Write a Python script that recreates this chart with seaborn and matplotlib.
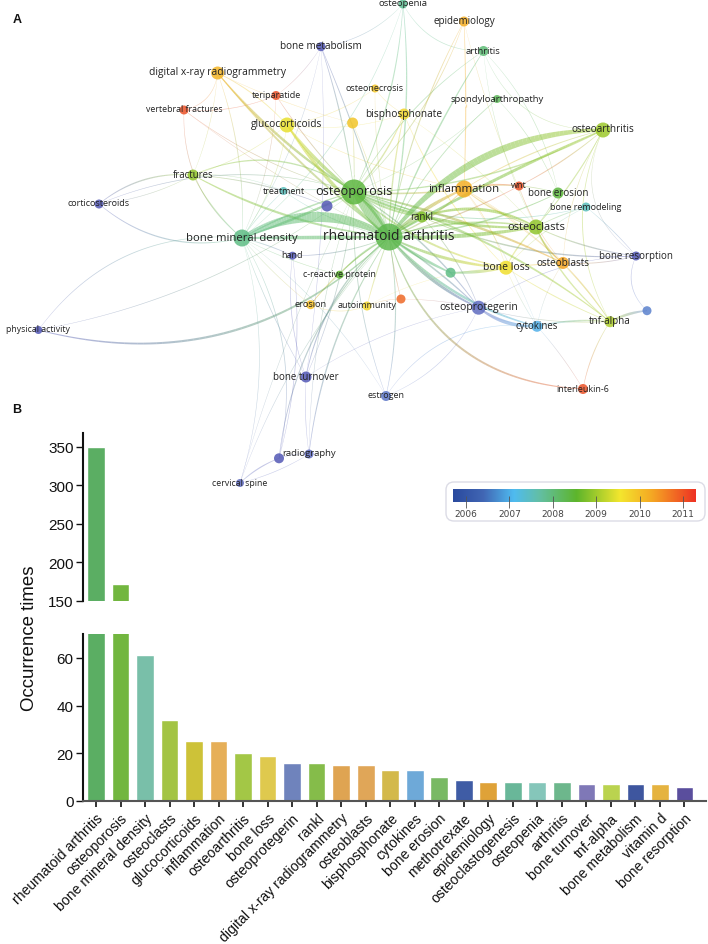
import numpy as np
import pandas as pd
import matplotlib
matplotlib.use('Agg')
import matplotlib.pyplot as plt
from matplotlib.collections import LineCollection
from matplotlib.colors import LinearSegmentedColormap, Normalize
from matplotlib.patches import FancyBboxPatch
import seaborn as sns

# panel B
keywords = ['rheumatoid arthritis', 'osteoporosis', 'bone mineral density', 'osteoclasts',
            'glucocorticoids', 'inflammation', 'osteoarthritis', 'bone loss', 'osteoprotegerin',
            'rankl', 'digital x-ray radiogrammetry', 'osteoblasts', 'bisphosphonate', 'cytokines',
            'bone erosion', 'methotrexate', 'epidemiology', 'osteoclastogenesis', 'osteopenia',
            'arthritis', 'bone turnover', 'tnf-alpha', 'bone metabolism', 'vitamin d', 'bone resorption']
occurrences = [350, 172, 61, 34, 25, 25, 20, 19, 16, 16, 15, 15, 13, 13, 10, 9, 8, 8, 8, 8, 7, 7, 7, 7, 6]
bar_colors = ['#5BAE63', '#72B63F', '#79BFA9', '#A3C444', '#CDC238', '#E6AF58', '#A3C746', '#DFC94E',
              '#6F83BC', '#85BC4A', '#DFA452', '#E0A658', '#D3B94B', '#6EA9D8', '#79B964', '#3F5CA5',
              '#DFA238', '#69B799', '#85C6BA', '#6DB78C', '#7F78B7', '#BAD34F', '#3E569F', '#E5B340', '#5A4E9D']

# panel A, positions read in reference pixels
node_names = ['osteopenia', 'epidemiology', 'bone metabolism', 'arthritis', 'digital x-ray radiogrammetry',
              'teriparatide', 'osteonecrosis', 'spondyloarthropathy', 'vertebral fractures', 'n1',
              'bisphosphonate', 'glucocorticoids', 'osteoarthritis', 'fractures', 'treatment',
              'osteoporosis', 'n2', 'inflammation', 'wnt', 'bone erosion',
              'bone remodeling', 'corticosteroids', 'rankl', 'osteoclasts', 'bone mineral density',
              'rheumatoid arthritis', 'hand', 'c-reactive protein', 'n3', 'bone loss',
              'osteoblasts', 'bone resorption', 'erosion', 'autoimmunity', 'n4',
              'osteoprotegerin', 'tnf-alpha', 'n5', 'cytokines', 'physical activity',
              'bone turnover', 'interleukin-6', 'estrogen', 'n6', 'radiography', 'cervical spine']
node_x = [403, 464, 321, 483.5, 217.6, 276, 375, 497, 184, 352.6, 404, 287, 603, 193, 283.5, 354, 327, 464, 519, 558,
          586, 99, 422, 536, 242, 389, 292.5, 339.5, 450.6, 506, 563, 636, 310.6, 367, 401, 478.6, 610, 647, 537, 38.4,
          306, 583, 386, 279, 309, 240]
node_y = [5, 22.5, 47.7, 52, 74, 96.5, 89.5, 100, 111, 124, 115, 126, 131, 176, 192, 193, 207, 190, 187, 194,
          208, 205, 218, 228, 239, 238, 256.7, 275.7, 273.7, 268.7, 264, 257, 305.7, 307, 300, 308.7, 322.7, 311.7, 327.3, 331,
          378, 390, 397, 459.3, 455, 484]
node_diam = [9, 10, 9, 10, 13, 9, 8, 8, 9, 11, 11, 15, 15, 11, 8, 25, 11, 17, 9, 11,
             9, 9, 11, 15, 17, 27, 8, 8, 10, 14, 12, 9, 9, 9, 9, 14, 11, 9, 11, 8,
             11, 10, 10, 10, 9, 8]
node_year = [2007.8, 2010.2, 2006.0, 2008.0, 2010.1, 2011.0, 2009.9, 2008.2, 2011.0, 2009.9, 2009.7, 2009.5, 2009.0, 2008.9, 2007.5,
             2008.4, 2006.0, 2010.2, 2011.0, 2008.4, 2007.5, 2006.0, 2008.8, 2008.9, 2007.9, 2008.3, 2006.0, 2008.5, 2007.9, 2009.6,
             2010.3, 2006.0, 2010.0, 2009.7, 2010.8, 2006.4, 2009.1, 2006.6, 2007.0, 2006.0, 2006.0, 2011.0, 2006.5, 2006.0, 2006.4, 2006.4]
label_pt = [6.8, 7.1, 7.2, 6.8, 7.4, 6.5, 6.5, 6.8, 6.3, 0, 7.3, 7.3, 7.2, 6.9, 6.5, 9.2, 0, 8.2, 6.5, 7.0,
            6.5, 6.5, 6.9, 7.9, 8.1, 10, 6.5, 6.5, 0, 7.5, 7.2, 7.0, 6.6, 6.5, 0, 7.5, 7.1, 0, 6.9, 6.3,
            7.0, 6.4, 6.5, 0, 6.8, 6.3]

# edges: from, to, width (px), bend
edges = [
    ('rheumatoid arthritis', 'osteoporosis', 10, 0.02),
    ('rheumatoid arthritis', 'osteoporosis', 5, -0.15),
    ('bone mineral density', 'rheumatoid arthritis', 10, 0.28),
    ('bone mineral density', 'rheumatoid arthritis', 3.5, 0.0),
    ('bone mineral density', 'osteoporosis', 2.5, -0.03),
    ('bone mineral density', 'osteoporosis', 1.6, 0.06),
    ('rheumatoid arthritis', 'osteoarthritis', 7, 0.24),
    ('rheumatoid arthritis', 'osteoarthritis', 3, 0.03),
    ('rheumatoid arthritis', 'osteoclasts', 4, -0.05),
    ('rheumatoid arthritis', 'osteoclasts', 2, 0.12),
    ('rheumatoid arthritis', 'inflammation', 3.5, 0.08),
    ('rheumatoid arthritis', 'inflammation', 1.6, -0.12),
    ('rheumatoid arthritis', 'bone loss', 3, -0.1),
    ('n3', 'bone loss', 3, -0.05),
    ('rheumatoid arthritis', 'osteoprotegerin', 3, -0.12),
    ('rheumatoid arthritis', 'osteoprotegerin', 1.6, 0.05),
    ('rheumatoid arthritis', 'rankl', 3, 0.05),
    ('rheumatoid arthritis', 'glucocorticoids', 3.5, 0.08),
    ('rheumatoid arthritis', 'digital x-ray radiogrammetry', 2, 0.06),
    ('osteoporosis', 'digital x-ray radiogrammetry', 2.5, 0.08),
    ('osteoporosis', 'glucocorticoids', 3.5, 0.08),
    ('osteoporosis', 'osteoclasts', 3, -0.12),
    ('osteoporosis', 'inflammation', 1.6, -0.05),
    ('osteoporosis', 'rankl', 2, -0.1),
    ('osteoporosis', 'bone loss', 2, -0.14),
    ('osteoporosis', 'osteoarthritis', 1.5, -0.12),
    ('osteoporosis', 'osteoblasts', 2.5, 0.06),
    ('osteoporosis', 'tnf-alpha', 2, 0.1),
    ('rankl', 'osteoclasts', 3, 0.22),
    ('inflammation', 'osteoclasts', 1.4, -0.1),
    ('osteoclasts', 'osteoblasts', 2, -0.15),
    ('osteoclasts', 'tnf-alpha', 1.4, -0.12),
    ('bone loss', 'osteoclasts', 1.4, 0.1),
    ('osteoprotegerin', 'cytokines', 3.5, -0.18),
    ('rheumatoid arthritis', 'cytokines', 2.5, -0.15),
    ('cytokines', 'tnf-alpha', 1.8, 0.08),
    ('tnf-alpha', 'n5', 2.5, 0.1),
    ('rheumatoid arthritis', 'interleukin-6', 2, -0.35),
    ('rheumatoid arthritis', 'n3', 3, -0.05),
    ('rheumatoid arthritis', 'c-reactive protein', 1.6, -0.1),
    ('physical activity', 'rheumatoid arthritis', 2.2, -0.28),
    ('physical activity', 'bone mineral density', 0.8, 0.28),
    ('physical activity', 'osteoporosis', 0.7, -0.12),
    ('corticosteroids', 'fractures', 1.3, 0.2),
    ('corticosteroids', 'bone mineral density', 1.2, -0.25),
    ('corticosteroids', 'osteoporosis', 0.8, 0.18),
    ('corticosteroids', 'fractures', 0.6, -0.1),
    ('fractures', 'osteoporosis', 1.4, 0.28),
    ('fractures', 'rheumatoid arthritis', 2.2, -0.1),
    ('fractures', 'bone mineral density', 1.1, -0.1),
    ('fractures', 'n2', 1, 0.08),
    ('fractures', 'treatment', 0.5, 0.12),
    ('digital x-ray radiogrammetry', 'glucocorticoids', 1, 0.1),
    ('digital x-ray radiogrammetry', 'bone mineral density', 0.9, 0.1),
    ('digital x-ray radiogrammetry', 'vertebral fractures', 0.6, 0.35),
    ('digital x-ray radiogrammetry', 'fractures', 0.5, 0.08),
    ('vertebral fractures', 'teriparatide', 0.6, -0.12),
    ('vertebral fractures', 'bone mineral density', 0.8, -0.25),
    ('vertebral fractures', 'osteoporosis', 0.7, -0.1),
    ('vertebral fractures', 'rheumatoid arthritis', 0.5, -0.05),
    ('teriparatide', 'osteoporosis', 0.9, -0.05),
    ('teriparatide', 'bone mineral density', 0.6, 0.1),
    ('teriparatide', 'bone metabolism', 0.5, -0.1),
    ('bone metabolism', 'osteoporosis', 1.1, 0.05),
    ('bone metabolism', 'rheumatoid arthritis', 1.1, 0.03),
    ('bone metabolism', 'osteopenia', 0.6, -0.18),
    ('bone metabolism', 'bone turnover', 0.6, 0.05),
    ('bone metabolism', 'bone mineral density', 0.5, 0.1),
    ('osteopenia', 'rheumatoid arthritis', 1.4, 0.08),
    ('osteopenia', 'osteoporosis', 1.2, 0.1),
    ('osteopenia', 'bone mineral density', 0.7, 0.15),
    ('osteopenia', 'arthritis', 0.7, -0.3),
    ('epidemiology', 'rheumatoid arthritis', 1.1, -0.08),
    ('epidemiology', 'osteoporosis', 0.9, 0.12),
    ('epidemiology', 'inflammation', 1.2, 0.02),
    ('epidemiology', 'osteoclasts', 0.5, -0.05),
    ('arthritis', 'rheumatoid arthritis', 1.5, -0.05),
    ('arthritis', 'osteoporosis', 0.9, -0.12),
    ('arthritis', 'bone erosion', 0.6, 0.15),
    ('arthritis', 'osteoarthritis', 0.6, -0.35),
    ('arthritis', 'osteoclasts', 0.5, -0.1),
    ('spondyloarthropathy', 'rheumatoid arthritis', 0.9, -0.1),
    ('spondyloarthropathy', 'bone erosion', 0.6, 0.1),
    ('spondyloarthropathy', 'osteoporosis', 0.5, 0.1),
    ('bisphosphonate', 'osteoporosis', 1.4, 0.1),
    ('bisphosphonate', 'rheumatoid arthritis', 1.4, -0.05),
    ('bisphosphonate', 'bone loss', 1, -0.1),
    ('bisphosphonate', 'osteoclasts', 0.5, 0.06),
    ('osteonecrosis', 'rheumatoid arthritis', 0.6, -0.05),
    ('osteonecrosis', 'glucocorticoids', 0.6, 0.12),
    ('osteonecrosis', 'bisphosphonate', 0.5, -0.12),
    ('n1', 'osteoporosis', 0.8, 0.02),
    ('n1', 'rheumatoid arthritis', 0.7, 0.05),
    ('n1', 'digital x-ray radiogrammetry', 0.5, 0.05),
    ('glucocorticoids', 'fractures', 0.6, 0.1),
    ('glucocorticoids', 'inflammation', 0.6, -0.08),
    ('glucocorticoids', 'bone mineral density', 0.7, 0.12),
    ('glucocorticoids', 'bisphosphonate', 0.5, -0.12),
    ('osteoarthritis', 'osteoclasts', 1.2, 0.06),
    ('osteoarthritis', 'inflammation', 1.1, -0.08),
    ('osteoarthritis', 'wnt', 1.1, 0.06),
    ('osteoarthritis', 'tnf-alpha', 0.9, -0.25),
    ('osteoarthritis', 'osteoblasts', 0.6, -0.12),
    ('osteoarthritis', 'bone resorption', 0.5, -0.4),
    ('inflammation', 'wnt', 1.3, 0.1),
    ('inflammation', 'bone erosion', 0.9, 0.12),
    ('inflammation', 'bone loss', 0.7, 0.1),
    ('inflammation', 'tnf-alpha', 0.6, 0.12),
    ('inflammation', 'cytokines', 0.5, 0.06),
    ('inflammation', 'osteoblasts', 0.6, 0.05),
    ('wnt', 'rheumatoid arthritis', 1.2, 0.06),
    ('wnt', 'osteoblasts', 0.6, -0.1),
    ('bone erosion', 'rheumatoid arthritis', 1.5, 0.1),
    ('bone erosion', 'osteoclasts', 0.7, 0.05),
    ('bone remodeling', 'osteoporosis', 1, 0.16),
    ('bone remodeling', 'bone loss', 0.7, -0.1),
    ('bone remodeling', 'bone resorption', 0.7, 0.05),
    ('bone remodeling', 'osteoclasts', 0.9, -0.05),
    ('rankl', 'bone resorption', 1.5, -0.12),
    ('osteoclasts', 'bone resorption', 1.3, -0.08),
    ('bone resorption', 'n5', 0.7, -0.35),
    ('bone loss', 'tnf-alpha', 1, -0.05),
    ('bone loss', 'osteoblasts', 1, 0.02),
    ('bone loss', 'cytokines', 0.6, -0.05),
    ('osteoblasts', 'bone resorption', 0.9, -0.08),
    ('osteoblasts', 'tnf-alpha', 1.2, 0.05),
    ('osteoblasts', 'cytokines', 0.5, -0.1),
    ('osteoprotegerin', 'rankl', 1, -0.1),
    ('osteoprotegerin', 'bone resorption', 0.6, 0.15),
    ('osteoprotegerin', 'estrogen', 0.6, 0.2),
    ('osteoprotegerin', 'tnf-alpha', 0.7, -0.08),
    ('osteoporosis', 'osteoprotegerin', 1.5, 0.1),
    ('cytokines', 'interleukin-6', 0.6, 0.05),
    ('tnf-alpha', 'interleukin-6', 0.9, -0.1),
    ('cytokines', 'estrogen', 0.7, -0.3),
    ('autoimmunity', 'rheumatoid arthritis', 1.1, 0.03),
    ('autoimmunity', 'n4', 0.5, 0.1),
    ('autoimmunity', 'bone loss', 0.4, 0.12),
    ('n4', 'rheumatoid arthritis', 0.9, 0.03),
    ('n4', 'osteoprotegerin', 0.5, 0.05),
    ('erosion', 'rheumatoid arthritis', 1.1, 0.1),
    ('erosion', 'autoimmunity', 0.6, -0.2),
    ('erosion', 'bone mineral density', 0.6, 0.05),
    ('hand', 'bone mineral density', 0.9, -0.05),
    ('hand', 'rheumatoid arthritis', 1, -0.1),
    ('hand', 'bone turnover', 0.7, -0.12),
    ('c-reactive protein', 'erosion', 0.7, -0.05),
    ('c-reactive protein', 'bone mineral density', 0.6, 0.06),
    ('treatment', 'osteoporosis', 0.7, 0.05),
    ('treatment', 'rheumatoid arthritis', 0.7, -0.1),
    ('treatment', 'bone mineral density', 0.7, -0.05),
    ('bone turnover', 'bone mineral density', 0.7, 0.05),
    ('bone turnover', 'rheumatoid arthritis', 1.4, 0.18),
    ('bone turnover', 'osteoporosis', 0.8, -0.08),
    ('bone turnover', 'osteoprotegerin', 0.5, 0.1),
    ('estrogen', 'rheumatoid arthritis', 1.1, -0.1),
    ('estrogen', 'osteoporosis', 0.9, 0.1),
    ('estrogen', 'bone mineral density', 0.5, -0.1),
    ('n6', 'bone mineral density', 0.8, -0.2),
    ('n6', 'rheumatoid arthritis', 1.2, 0.18),
    ('n6', 'hand', 0.7, -0.1),
    ('radiography', 'rheumatoid arthritis', 1.4, 0.12),
    ('radiography', 'bone turnover', 0.6, 0.05),
    ('radiography', 'n6', 0.6, -0.1),
    ('radiography', 'osteoporosis', 0.6, 0.08),
    ('cervical spine', 'n6', 1.1, 0.1),
    ('cervical spine', 'bone mineral density', 0.6, -0.15),
    ('cervical spine', 'radiography', 0.6, -0.08),
    ('cervical spine', 'rheumatoid arthritis', 0.6, 0.1),
    ('cervical spine', 'osteoporosis', 0.5, 0.05),
]

year_stops = [2005.71, 2006.4, 2007.1, 2007.7, 2008.55, 2009.55, 2010.3, 2011.29]
scale_colors = ['#2A4A9E', '#4166B4', '#4FBBF0', '#63BFA4', '#5DB52B', '#F3E62E', '#F5A623', '#EE3224']
# nodes and links start from a more violet blue than the colour scale
net_colors = ['#4A4AAE', '#5F6CC0', '#4FBBF0', '#5FC0A0', '#5DB52B', '#F0E22E', '#F5A623', '#E8302A']

W, H = 708, 945


def px_rect(left, top, right, bottom):
    return [left / W, 1 - bottom / H, (right - left) / W, (bottom - top) / H]


year_norm = Normalize(year_stops[0], year_stops[-1])
scale_cmap = LinearSegmentedColormap.from_list(
    'scale', [(year_norm(y), c) for y, c in zip(year_stops, scale_colors)])
net_cmap = LinearSegmentedColormap.from_list(
    'net', [(year_norm(y), c) for y, c in zip(year_stops, net_colors)])

sns.set_theme(style='white')
plt.rcParams['font.family'] = ['Liberation Sans', 'DejaVu Sans']

fig = plt.figure(figsize=(W / 100, H / 100), dpi=100)

# broken bar chart
bars = pd.DataFrame({'keyword': keywords, 'n': occurrences})
ax_top = fig.add_axes(px_rect(83.3, 434, 706, 601.7))
ax_low = fig.add_axes(px_rect(83.3, 635, 706, 802))
for ax in (ax_top, ax_low):
    sns.barplot(data=bars, x='keyword', y='n', hue='keyword', palette=bar_colors, width=0.72,
                saturation=1, legend=False, ax=ax)
    ax.set_xlim(-0.518, 24.88)
    ax.set_xlabel('')
    ax.set_ylabel('')
    ax.spines['top'].set_visible(False)
    ax.spines['right'].set_visible(False)
    ax.spines['left'].set_linewidth(1.5)
    ax.spines['left'].set_color('#111111')
    ax.tick_params(axis='y', left=True, length=5, width=1, labelsize=11, pad=2, color='#111111', labelcolor='#111111')

ax_top.set_ylim(150, 368)
ax_top.set_yticks([150, 200, 250, 300, 350])
ax_top.spines['bottom'].set_visible(False)
ax_top.tick_params(axis='x', bottom=False, labelbottom=False)

ax_low.set_ylim(0, 70)
ax_low.set_yticks([0, 20, 40, 60])
ax_low.spines['bottom'].set_linewidth(1.5)
ax_low.spines['bottom'].set_color('#555555')
ax_low.set_xticks(range(len(keywords)))
ax_low.set_xticklabels(keywords, rotation=45, ha='right', va='top', rotation_mode='anchor',
                       fontsize=10.1, color='#111111')
ax_low.tick_params(axis='x', bottom=True, length=4, width=1.2, pad=3, color='#111111')

fig.text(30 / W, 1 - 638 / H, 'Occurrence times', rotation=90, ha='center', va='center',
         fontsize=13.4, color='#111111')

# network on a full figure axes, in reference pixels
ax_net = fig.add_axes([0, 0, 1, 1], facecolor='none')

nodes = pd.DataFrame({'name': node_names, 'x': node_x, 'y': node_y, 'diam': node_diam, 'year': node_year})
pos = nodes.set_index('name')


def edge_curve(p0, p1, bend, steps=60):
    ctrl = (p0 + p1) / 2 + bend * np.array([p1[1] - p0[1], p0[0] - p1[0]])
    t = np.linspace(0, 1, steps)[:, None]
    return (1 - t) ** 2 * p0 + 2 * t * (1 - t) * ctrl + t ** 2 * p1


for a, b, width, bend in sorted(edges, key=lambda e: e[2]):
    p0 = pos.loc[a, ['x', 'y']].to_numpy(dtype=float)
    p1 = pos.loc[b, ['x', 'y']].to_numpy(dtype=float)
    curve = edge_curve(p0, p1, bend)
    segs = np.stack([curve[:-1], curve[1:]], axis=1)
    # colour runs straight from one end node to the other
    mix = np.linspace(0, 1, len(segs))[:, None]
    seg_colors = (1 - mix) * np.array(net_cmap(year_norm(pos.loc[a, 'year']))) \
        + mix * np.array(net_cmap(year_norm(pos.loc[b, 'year'])))
    seg_colors[:, 3] = min(0.28 + 0.08 * width, 0.52)
    # links swell towards the middle
    swell = 0.4 + 0.6 * np.sin(np.linspace(0, np.pi, len(segs)))
    lc = LineCollection(segs, colors=seg_colors, linewidths=width * 0.72 * swell, capstyle='butt', zorder=1)
    ax_net.add_collection(lc)

sns.scatterplot(data=nodes, x='x', y='y', hue='year', palette=net_cmap, hue_norm=year_norm,
                size='diam', sizes={d: (d * 0.72) ** 2 for d in node_diam}, linewidth=0,
                alpha=0.85, legend=False, zorder=3, ax=ax_net)
ax_net.set_xlim(0, W)
ax_net.set_ylim(H, 0)
ax_net.axis('off')

for name, x, y, pt in zip(node_names, node_x, node_y, label_pt):
    if pt > 0:
        ax_net.text(x, y - 1, name, fontsize=pt, family=['Open Sans', 'DejaVu Sans'], color='#222222',
                    ha='center', va='center', zorder=4)

ax_net.text(17, 20, 'A', fontsize=9, fontweight='bold', color='#111111', ha='center', va='center')
ax_net.text(17, 410, 'B', fontsize=9, fontweight='bold', color='#111111', ha='center', va='center')

# colour scale box
ax_net.add_patch(FancyBboxPatch((454, 491), 243, 23, boxstyle='round,pad=8,rounding_size=8',
                                facecolor='white', edgecolor='#DCDCE6', linewidth=1, zorder=5))

ax_cb = fig.add_axes(px_rect(453.3, 490, 695.7, 502.7), zorder=10)
ax_cb.imshow(np.linspace(year_stops[0], year_stops[-1], 256)[None, :], aspect='auto', cmap=scale_cmap,
             norm=year_norm, extent=[year_stops[0], year_stops[-1], 0, 1])
ax_cb.set_yticks([])
ax_cb.set_xticks([2006, 2007, 2008, 2009, 2010, 2011])
ax_cb.tick_params(axis='x', bottom=True, direction='inout', length=9, width=0.6, color='#555555',
                  labelsize=6.5, labelcolor='#444444', pad=1)
for label in ax_cb.get_xticklabels():
    label.set_family(['DejaVu Sans'])
for side in ax_cb.spines.values():
    side.set_visible(False)

fig.savefig('out.png', dpi=100)
